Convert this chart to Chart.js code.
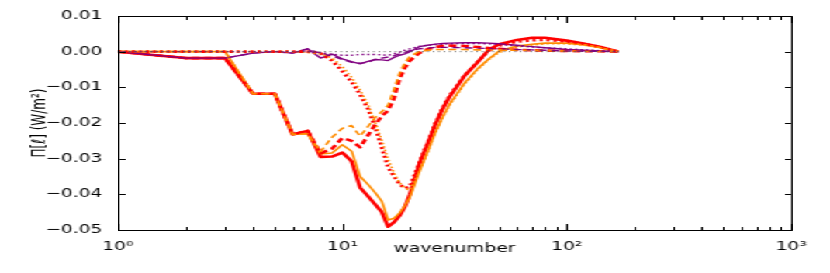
<!DOCTYPE html>
<html>
<head>
<meta charset="utf-8">
<script src="https://cdn.jsdelivr.net/npm/chart.js@4.4.1/dist/chart.umd.min.js"></script>
<style>
  html, body { margin: 0; padding: 0; background: #fff; overflow: hidden; }
  /* the reference figure is stretched horizontally, so draw narrow and scale */
  #wrap { position: relative; width: 535px; height: 273px; transform: scaleX(1.5514); transform-origin: 0 0; }
  #frame { position: absolute; box-sizing: border-box; border: 1px solid #000; pointer-events: none; }
  #frame div { position: absolute; background: #000; }
</style>
</head>
<body>
<div id="wrap"><canvas id="flux"></canvas></div>
<script>
// wavenumbers at which values were read
const wavenumber = [1, 2, 3, 4, 5, 6, 7, 8, 9, 10, 11, 12, 13, 14, 15, 16, 17, 18, 19, 20,
    22, 24, 26, 28, 30, 35, 40, 45, 50, 60, 70, 80, 100, 120, 140, 170];

const redSolid = [0, -0.0018, -0.0018, -0.0118, -0.0118, -0.0232, -0.0222, -0.0295, -0.0294, -0.0283,
    -0.0307, -0.0381, -0.0405, -0.0428, -0.0450, -0.0491, -0.0478, -0.0460, -0.0435, -0.0400,
    -0.0315, -0.0258, -0.0203, -0.0160, -0.0127, -0.0068, -0.0030, 0.0006, 0.0021, 0.0033,
    0.0039, 0.0039, 0.0031, 0.0022, 0.0014, 0];
const orangeSolid = [0, 0, 0, -0.0118, -0.0118, -0.0232, -0.0230, -0.0287, -0.0284, -0.0261,
    -0.0279, -0.0350, -0.0372, -0.0395, -0.0420, -0.0472, -0.0467, -0.0452, -0.0432, -0.0408,
    -0.0338, -0.0280, -0.0226, -0.0183, -0.0148, -0.0088, -0.0048, -0.0020, 0.0002, 0.0016,
    0.0021, 0.0024, 0.0024, 0.0019, 0.0012, 0];
const purpleSolid = [0, -0.0018, -0.0018, -0.0004, 0, -0.0004, 0.0008, -0.0018, -0.0007, -0.0020,
    -0.0028, -0.0034, -0.0027, -0.0022, -0.0023, -0.0025, -0.0016, -0.0010, -0.0006, 0,
    0.0014, 0.0018, 0.0021, 0.0023, 0.0024, 0.0025, 0.0025, 0.0024, 0.0022, 0.0018,
    0.0014, 0.0011, 0.0006, 0.0004, 0.0002, 0];

const redDashed = [0, -0.0018, -0.0018, -0.0118, -0.0118, -0.0232, -0.0222, -0.0285, -0.0272, -0.0242,
    -0.0250, -0.0268, -0.0235, -0.0205, -0.0180, -0.0165, -0.0130, -0.0075, -0.0045, -0.0025,
    -0.0004, 0.0007, 0.0013, 0.0016, 0.0017, 0.0016, 0.0013, 0.0010, 0.0008, 0.0005,
    0.0004, 0.0003, 0.0002, 0.0001, 0.0001, 0];
const orangeDashed = [0, 0, 0, -0.0118, -0.0118, -0.0232, -0.0230, -0.0280, -0.0240, -0.0215,
    -0.0207, -0.0237, -0.0210, -0.0185, -0.0168, -0.0150, -0.0105, -0.0060, -0.0032, -0.0013,
    0, 0.0004, 0.0006, 0.0006, 0.0006, 0.0006, 0.0005, 0.0005, 0.0005, 0.0004,
    0.0004, 0.0003, 0.0002, 0.0001, 0.0001, 0];
const purpleDashed = [0, -0.0018, -0.0018, -0.0004, 0, -0.0004, 0.0008, -0.0005, -0.0012, -0.0022,
    -0.0030, -0.0032, -0.0030, -0.0022, -0.0018, -0.0015, -0.0011, -0.0006, -0.0002, 0.0003,
    0.0008, 0.0010, 0.0012, 0.0012, 0.0012, 0.0011, 0.0010, 0.0009, 0.0008, 0.0006,
    0.0005, 0.0004, 0.0002, 0.0001, 0.0001, 0];

const redDotted = [0, 0, 0, 0, 0, 0, 0, -0.0005, -0.0025, -0.0055,
    -0.0085, -0.0120, -0.0160, -0.0210, -0.0270, -0.0325, -0.0350, -0.0372, -0.0383, -0.0378,
    -0.0312, -0.0255, -0.0200, -0.0157, -0.0124, -0.0067, -0.0029, 0.0003, 0.0017, 0.0028,
    0.0032, 0.0033, 0.0029, 0.0021, 0.0013, 0];
const orangeDotted = [0, 0, 0, 0, 0, 0, -0.0002, -0.0006, -0.0018, -0.0042,
    -0.0072, -0.0108, -0.0148, -0.0198, -0.0250, -0.0302, -0.0340, -0.0368, -0.0383, -0.0388,
    -0.0338, -0.0281, -0.0228, -0.0185, -0.0151, -0.0091, -0.0051, -0.0022, -0.0002, 0.0013,
    0.0019, 0.0022, 0.0022, 0.0018, 0.0011, 0];
const purpleDotted = [0, 0, 0, 0, 0, 0, 0, -0.0003, -0.0007, -0.0010,
    -0.0010, -0.0008, -0.0008, -0.0008, -0.0009, -0.0010, -0.0006, -0.0001, 0.0004, 0.0008,
    0.0015, 0.0018, 0.0020, 0.0021, 0.0022, 0.0023, 0.0023, 0.0022, 0.0020, 0.0016,
    0.0013, 0.0011, 0.0008, 0.0005, 0.0003, 0];

const zeroK = [1, 170];
const zeroVals = [0, 0];

const xTickValues = [1, 10, 100, 1000];
const xTickLabels = ['10⁰', '10¹', '10²', '10³'];
const yTickValues = [-0.05, -0.04, -0.03, -0.02, -0.01, 0, 0.01];

const RED = '#ff0000';
const ORANGE = '#ff8c00';
const PURPLE = '#800080';

function series(xs, ys) {
    return xs.map((x, i) => ({ x: x, y: ys[i] }));
}

// line list in drawing order (first = bottom)
const lines = [
    { data: series(wavenumber, redSolid), color: RED, width: 2.6, dash: [] },
    { data: series(wavenumber, orangeSolid), color: ORANGE, width: 1.6, dash: [] },
    { data: series(wavenumber, purpleSolid), color: PURPLE, width: 1.4, dash: [] },
    { data: series(wavenumber, redDashed), color: RED, width: 2.6, dash: [5, 3] },
    { data: series(wavenumber, orangeDashed), color: ORANGE, width: 1.6, dash: [5, 3] },
    { data: series(wavenumber, purpleDashed), color: PURPLE, width: 1.4, dash: [5, 3] },
    { data: series(wavenumber, redDotted), color: RED, width: 2.6, dash: [2, 2.5] },
    { data: series(wavenumber, orangeDotted), color: ORANGE, width: 1.6, dash: [1.5, 2] },
    { data: series(wavenumber, purpleDotted), color: PURPLE, width: 1.4, dash: [1.5, 2] },
    { data: series(zeroK, zeroVals), color: '#555555', width: 0.9, dash: [1, 2.5] }
];

function tickMark(parent, left, top, w, h) {
    const t = document.createElement('div');
    t.style.left = left + 'px';
    t.style.top = top + 'px';
    t.style.width = w + 'px';
    t.style.height = h + 'px';
    parent.appendChild(t);
}

// box round the plot plus inward ticks like matplotlib, placed from the chart's scales
function drawFrame(chart) {
    const a = chart.chartArea;
    const sx = chart.scales.x;
    const sy = chart.scales.y;
    const old = document.getElementById('frame');
    if (old) old.remove();
    const frame = document.createElement('div');
    frame.id = 'frame';
    const w = a.right - a.left;
    const h = a.bottom - a.top;
    frame.style.left = a.left + 'px';
    frame.style.top = a.top + 'px';
    frame.style.width = (w + 1) + 'px';
    frame.style.height = (h + 1) + 'px';
    xTickValues.forEach((base, d) => {
        for (let m = 1; m <= 9; m++) {
            if (d === xTickValues.length - 1 && m > 1) break;
            const px = sx.getPixelForValue(base * m) - a.left - 1;
            const len = m === 1 ? 6 : 3;
            tickMark(frame, px, h - 1 - len, 1, len);
            tickMark(frame, px, 0, 1, len);
        }
    });
    yTickValues.forEach(v => {
        const py = sy.getPixelForValue(v) - a.top - 1;
        tickMark(frame, 0, py, 4, 1);
        tickMark(frame, w - 5, py, 4, 1);
    });
    document.getElementById('wrap').appendChild(frame);
}

const frameTicks = {
    id: 'frameTicks',
    afterDatasetsDraw(chart) {
        drawFrame(chart);
    }
};

const tickFont = { family: 'DejaVu Sans', size: 12 };

new Chart(document.getElementById('flux'), {
    type: 'line',
    data: {
        datasets: lines.map((l, i) => ({
            data: l.data,
            borderColor: l.color,
            borderWidth: l.width,
            borderDash: l.dash,
            borderCapStyle: 'butt',
            borderJoinStyle: 'round',
            pointRadius: 0,
            tension: 0,
            order: lines.length - i
        }))
    },
    options: {
        responsive: true,
        maintainAspectRatio: false,
        animation: false,
        layout: { padding: { left: 0, right: 25, top: 16, bottom: 0 } },
        plugins: {
            legend: { display: false },
            tooltip: { enabled: false }
        },
        scales: {
            x: {
                type: 'logarithmic',
                min: 1,
                max: 1000,
                grid: { display: false },
                border: { display: false },
                afterBuildTicks: scale => {
                    scale.ticks = xTickValues.map(v => ({ value: v }));
                },
                afterFit: scale => { scale.height = 43; },
                ticks: {
                    font: tickFont,
                    color: '#000',
                    padding: 2,
                    maxRotation: 0,
                    autoSkip: false,
                    callback: value => {
                        const i = xTickValues.indexOf(value);
                        return i >= 0 ? xTickLabels[i] : '';
                    }
                },
                title: {
                    display: true,
                    text: 'wavenumber',
                    font: tickFont,
                    color: '#000',
                    padding: { top: 0, bottom: 17 }
                }
            },
            y: {
                type: 'linear',
                min: -0.05,
                max: 0.01,
                grid: { display: false },
                border: { display: false },
                afterFit: scale => { scale.width = 76; },
                ticks: {
                    stepSize: 0.01,
                    font: tickFont,
                    color: '#000',
                    padding: 2,
                    callback: value => {
                        const v = Math.round(value * 100) / 100;
                        return (v < 0 ? '\u2212' : '') + Math.abs(v).toFixed(2);
                    }
                },
                title: {
                    display: true,
                    text: 'Π[ℓ] (W/m²)',
                    font: tickFont,
                    color: '#000',
                    padding: { top: 19, bottom: 0 }
                }
            }
        }
    },
    plugins: [frameTicks]
});
</script>
</body>
</html>
